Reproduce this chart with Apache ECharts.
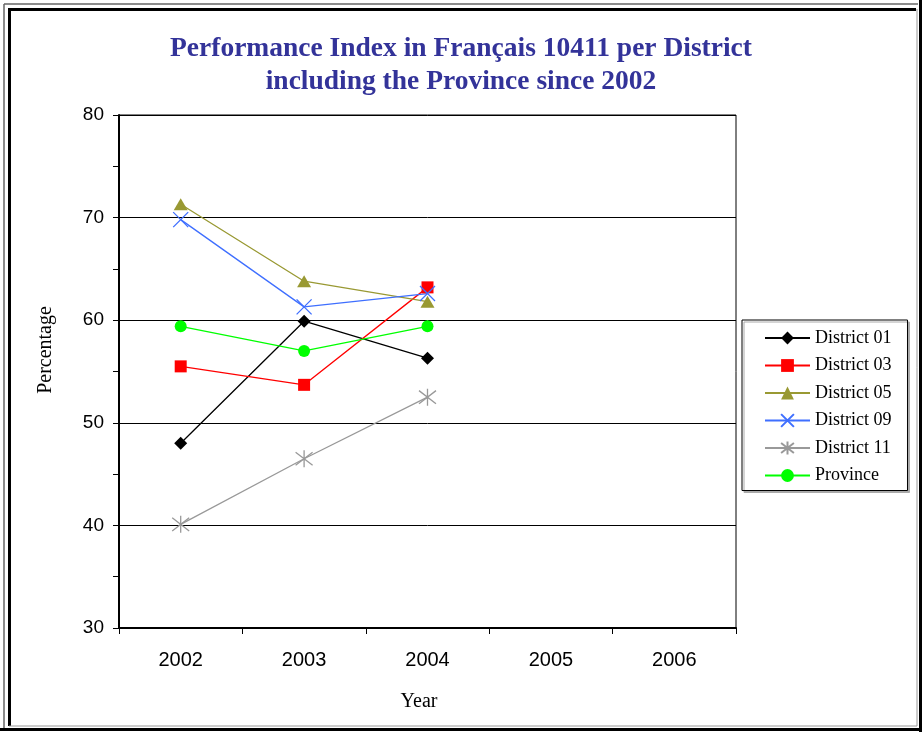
<!DOCTYPE html>
<html>
<head>
<meta charset="utf-8">
<script src="https://cdn.jsdelivr.net/npm/echarts@6/dist/echarts.min.js"></script>
<style>
html,body{margin:0;padding:0;background:#fff;}
#chart{width:922px;height:732px;}
</style>
</head>
<body>
<div id="chart"></div>
<script>
const years = ['2002','2003','2004','2005','2006'];
const district01 = [48.0, 59.9, 56.3, null, null];
const district03 = [55.5, 53.7, 63.2, null, null];
const district05 = [71.3, 63.8, 61.8, null, null];
const district09 = [69.8, 61.3, 62.6, null, null];
const district11 = [40.1, 46.5, 52.5, null, null];
const province   = [59.4, 57.0, 59.4, null, null];
const yTicks = {min: 30, max: 80, interval: 10};

const chart = echarts.init(document.getElementById('chart'), null, {renderer: 'canvas'});

const crossPath = 'path://M0,0 L10,10 M10,0 L0,10';
const starPath = 'path://M0,0 L10,10 M10,0 L0,10 M5,-1.5 L5,11.5';

function mk(name, data, color, symbol, size, strokeOnly) {
  return {
    name: name,
    type: 'line',
    data: data,
    symbol: symbol,
    symbolSize: size,
    connectNulls: false,
    lineStyle: {color: color, width: 1.3},
    itemStyle: strokeOnly ? {color: 'none', borderColor: color, borderWidth: 1.3} : {color: color, borderWidth: 0},
    emphasis: {disabled: true},
    z: 3
  };
}

const option = {
  animation: false,
  backgroundColor: '#fff',
  title: {
    text: 'Performance Index in Français 10411 per District\nincluding the Province since 2002',
    left: 'center',
    top: 27,
    textStyle: {
      fontFamily: 'Liberation Serif',
      fontWeight: 'bold',
      fontSize: 27.5,
      lineHeight: 33,
      color: '#333399'
    }
  },
  grid: {
    left: 119, right: 186, top: 115, bottom: 104,
    show: true, borderColor: '#000', borderWidth: 1, backgroundColor: '#fff'
  },
  legend: {
    orient: 'vertical',
    left: 742, top: 320,
    padding: [9, 16, 6, 22],
    itemWidth: 45, itemHeight: 16, itemGap: 9.5,
    borderColor: '#000', borderWidth: 1,
    backgroundColor: '#fff',
    shadowColor: '#aaa', shadowOffsetX: 2, shadowOffsetY: 2, shadowBlur: 0,
    textStyle: {fontFamily: 'Liberation Serif', fontSize: 18, color: '#000'},
    data: ['District 01','District 03','District 05','District 09','District 11','Province']
  },
  xAxis: {
    type: 'category',
    data: years,
    boundaryGap: true,
    axisLine: {show: true, lineStyle: {color: '#000', width: 2}},
    axisTick: {show: true, interval: 0, length: 6, lineStyle: {color: '#000', width: 1}},
    axisLabel: {margin: 22, fontFamily: 'Liberation Sans', fontSize: 20, color: '#000'},
    splitLine: {show: false}
  },
  yAxis: {
    type: 'value',
    min: yTicks.min, max: yTicks.max, interval: yTicks.interval,
    axisLine: {show: true, lineStyle: {color: '#000', width: 2}},
    axisTick: {show: true, length: 6, lineStyle: {color: '#000', width: 1}},
    minorTick: {show: true, splitNumber: 2, length: 6, lineStyle: {color: '#000', width: 1}},
    axisLabel: {margin: 15, fontFamily: 'Liberation Sans', fontSize: 19, color: '#000'},
    splitLine: {show: true, lineStyle: {color: '#000', width: 1}}
  },
  graphic: [
    {type: 'text', x: 46, y: 350, rotation: Math.PI/2, silent: true,
     style: {text: 'Percentage', font: '20px "Liberation Serif"', fill: '#000', align: 'center', verticalAlign: 'middle'}},
    {type: 'text', x: 419, y: 702, silent: true,
     style: {text: 'Year', font: '20px "Liberation Serif"', fill: '#000', align: 'center', verticalAlign: 'middle'}},
    // frame
    {type: 'line', shape: {x1: 4, y1: 4, x2: 4, y2: 728}, style: {stroke: '#666', lineWidth: 1.5}},
    {type: 'line', shape: {x1: 4, y1: 4, x2: 918, y2: 4}, style: {stroke: '#666', lineWidth: 1.5}},
    {type: 'line', shape: {x1: 9.5, y1: 8, x2: 9.5, y2: 726}, style: {stroke: '#000', lineWidth: 3}},
    {type: 'line', shape: {x1: 8, y1: 9.5, x2: 916, y2: 9.5}, style: {stroke: '#000', lineWidth: 3}},
    {type: 'line', shape: {x1: 917, y1: 9, x2: 917, y2: 726}, style: {stroke: '#999', lineWidth: 1}},
    {type: 'line', shape: {x1: 9, y1: 726, x2: 917, y2: 726}, style: {stroke: '#999', lineWidth: 1}},
    {type: 'line', shape: {x1: 920.5, y1: 0, x2: 920.5, y2: 732}, style: {stroke: '#000', lineWidth: 3}},
    {type: 'line', shape: {x1: 0, y1: 729.5, x2: 922, y2: 729.5}, style: {stroke: '#000', lineWidth: 3}}
  ],
  series: [
    mk('District 01', district01, '#000000', 'diamond', 13, false),
    mk('District 03', district03, '#FF0000', 'rect', 12, false),
    mk('District 05', district05, '#999933', 'triangle', [14, 12], false),
    mk('District 09', district09, '#3F6FFF', crossPath, 15, true),
    mk('District 11', district11, '#999999', starPath, 17, true),
    mk('Province', province, '#00FF00', 'circle', 12, false)
  ]
};
chart.setOption(option);
</script>
</body>
</html>
